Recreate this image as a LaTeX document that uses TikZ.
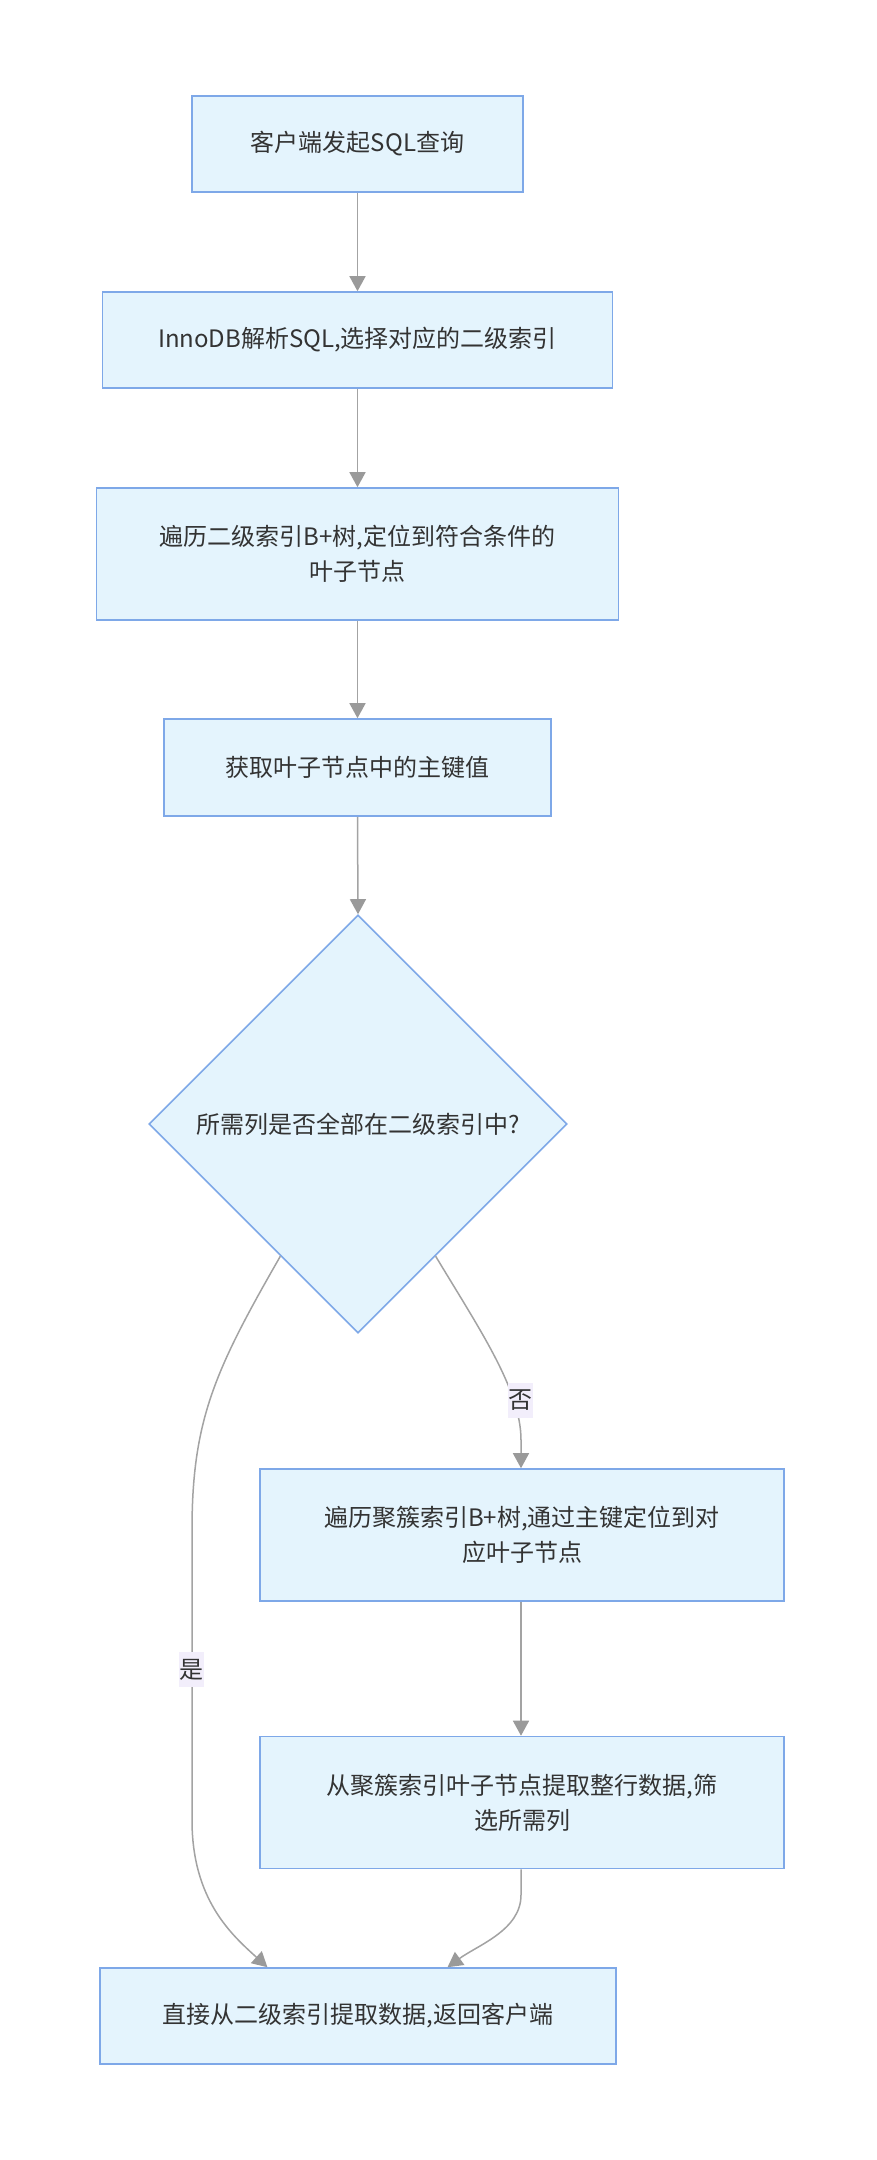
\documentclass[tikz,border=0pt]{standalone}
\usepackage{fontspec}
\setmainfont{Noto Sans CJK SC}
\usetikzlibrary{shapes.geometric,arrows.meta,calc}
\definecolor{boxfill}{HTML}{E4F4FD}
\definecolor{boxline}{HTML}{7EA8E8}
\definecolor{edgec}{HTML}{A3A3A3}
\definecolor{tipc}{HTML}{9A9A9A}
\definecolor{labbg}{HTML}{F2EEFB}
\definecolor{txt}{HTML}{333333}
\tikzset{
  stepbox/.style={draw=boxline, fill=boxfill, line width=1.6pt, align=center,
    text=txt, font=\fontsize{24pt}{35pt}\selectfont, inner sep=0pt},
  decide/.style={diamond, draw=boxline, fill=boxfill, line width=1.6pt, align=center,
    text=txt, font=\fontsize{24pt}{35pt}\selectfont, inner sep=0pt,
    minimum width=418pt, minimum height=418pt},
  flow/.style={draw=edgec, line width=1.5pt,
    -{Triangle[width=16pt,length=15pt,fill=tipc,color=tipc]}},
  lab/.style={fill=labbg, text=txt, font=\fontsize{24pt}{30pt}\selectfont,
    inner sep=0pt, minimum width=25pt, minimum height=35pt}
}
\begin{document}
\begin{tikzpicture}[x=1pt,y=-1pt]
\useasboundingbox[fill=white] (0,0) rectangle (877,2160);

\node[stepbox, minimum width=331pt, minimum height=96pt] (n1) at (357.5,144) {客户端发起SQL查询};
\node[stepbox, minimum width=510pt, minimum height=96pt] (n2) at (357.5,340) {InnoDB解析SQL,选择对应的二级索引};
\node[stepbox, minimum width=522pt, minimum height=132pt] (n3) at (357.5,554) {遍历二级索引B+树,定位到符合条件的\\叶子节点};
\node[stepbox, minimum width=387pt, minimum height=97pt] (n4) at (357.5,767.5) {获取叶子节点中的主键值};
\node[decide] (d) at (358,1124) {所需列是否全部在二级索引中?};
\node[stepbox, minimum width=524pt, minimum height=132pt] (n5) at (522,1535) {遍历聚簇索引B+树,通过主键定位到对\\应叶子节点};
\node[stepbox, minimum width=524pt, minimum height=132pt] (n6) at (522,1802.5) {从聚簇索引叶子节点提取整行数据,筛\\选所需列};
\node[stepbox, minimum width=516pt, minimum height=96pt] (n7) at (358,2016) {直接从二级索引提取数据,返回客户端};

\coordinate (dl) at ($(d.west)!0.63!(d.south)$);
\coordinate (dr) at ($(d.east)!0.63!(d.south)$);
\coordinate (n7a) at ($(n7.north west)!0.325!(n7.north east)$);
\coordinate (n7b) at ($(n7.north west)!0.673!(n7.north east)$);

\draw[flow] (n1) -- (n2);
\draw[flow] (n2) -- (n3);
\draw[flow] (n3) -- (n4);
\draw[flow] (n4.south) -- (d.north);

\draw[flow] (dl) .. controls (215,1370) and (192,1420) .. (192,1530)
  -- (192,1820) .. controls (192,1900) and (232,1935) .. (n7a);
\draw[flow] (dr) .. controls (480,1330) and (521,1390) .. (521,1440) -- (n5.north -| 521,0);
\draw[flow] (n5.south -| 521,0) -- (n6.north -| 521,0);
\draw[flow] (n6.south -| 521,0) -- (521,1895) .. controls (521,1930) and (478,1945) .. (n7b);

\node[lab] (yes) at (191,1669.5) {是};
\node[lab] (no) at (520.5,1400.5) {否};
\end{tikzpicture}
\end{document}
